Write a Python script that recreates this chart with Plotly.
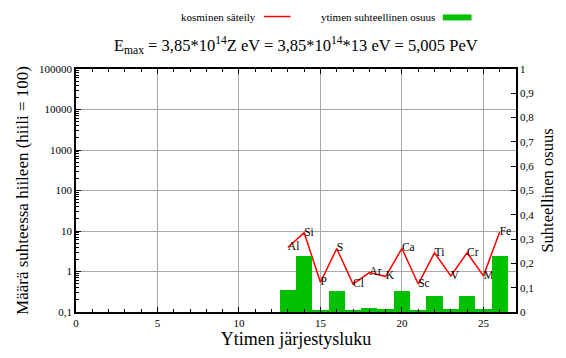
import plotly.graph_objects as go

# Nuclei Z = 13 ... 26 and their symbols
z_numbers = [13, 14, 15, 16, 17, 18, 19, 20, 21, 22, 23, 24, 25, 26]
symbols = ["Al", "Si", "P", "S", "Cl", "Ar", "K", "Ca", "Sc", "Ti", "V", "Cr", "Mn", "Fe"]

# Abundance in cosmic rays relative to carbon (carbon = 100)
cosmic_abundance = [3.9, 9.1, 0.54, 3.7, 0.49, 0.94, 0.75, 3.7, 0.49, 2.9, 0.78, 2.9, 0.78, 9.4]

# Relative share of each nucleus
relative_share = [0.09, 0.23, 0.01, 0.087, 0.007, 0.018, 0.014, 0.087, 0.007, 0.064, 0.013, 0.064, 0.013, 0.23]

# Axis tick labels
log_tickvals = [0.1, 1, 10, 100, 1000, 10000, 100000]
log_ticktext = ["0,1", "1", "10", "100", "1000", "10000", "100000"]
share_tickvals = [0, 0.1, 0.2, 0.3, 0.4, 0.5, 0.6, 0.7, 0.8, 0.9, 1]
share_ticktext = ["0", "0,1", "0,2", "0,3", "0,4", "0,5", "0,6", "0,7", "0,8", "0,9", "1"]
x_tickvals = [0, 5, 10, 15, 20, 25]

FONT = "'Liberation Serif', 'Times New Roman', Times, serif"
GRID = "#a8a8a8"

log_minor = [m * 10 ** e for e in range(-1, 5) for m in range(2, 10)]

fig = go.Figure()

fig.add_trace(go.Scatter(
    x=z_numbers, y=cosmic_abundance, mode="lines+text",
    text=symbols, textposition="middle right",
    textfont=dict(family=FONT, size=11.5, color="black"),
    line=dict(color="#ff0000", width=1.5),
    yaxis="y", showlegend=False, cliponaxis=False,
))

fig.add_trace(go.Bar(
    x=z_numbers, y=relative_share, width=1.0,
    marker=dict(color="#00c000", line=dict(width=0)),
    yaxis="y2", showlegend=False,
))

fig.update_layout(
    width=566, height=358,
    margin=dict(l=76, r=45, t=69, b=44),
    paper_bgcolor="white", plot_bgcolor="white",
    font=dict(family=FONT, size=11, color="black"),
    bargap=0,
    xaxis=dict(
        range=[0, 27], tickmode="array", tickvals=x_tickvals,
        ticks="inside", ticklen=5, tickwidth=1, tickcolor="black",
        minor=dict(ticks="inside", dtick=1, tick0=0, ticklen=3, tickcolor="black", showgrid=False),
        showgrid=True, gridcolor=GRID, gridwidth=1, zeroline=False,
        showline=True, linecolor="black", linewidth=1.5, mirror="ticks",
        tickfont=dict(family=FONT, size=11),
        title=dict(text="Ytimen järjestysluku", font=dict(family=FONT, size=18), standoff=4),
    ),
    yaxis=dict(
        type="log", range=[-1, 5], side="left",
        tickmode="array", tickvals=log_tickvals, ticktext=log_ticktext,
        ticks="inside", ticklen=5, tickcolor="black",
        minor=dict(ticks="inside", tickmode="array", tickvals=log_minor, ticklen=3,
                   tickcolor="black", showgrid=False),
        showgrid=True, gridcolor=GRID, gridwidth=1, zeroline=False,
        showline=True, linecolor="black", linewidth=1.5,
        tickfont=dict(family=FONT, size=11),
        title=dict(text="Määrä suhteessa hiileen (hiili = 100)", font=dict(family=FONT, size=17), standoff=6),
    ),
    yaxis2=dict(
        range=[0, 1], side="right", overlaying="y",
        tickmode="array", tickvals=share_tickvals, ticktext=share_ticktext,
        ticks="inside", ticklen=5, tickcolor="black",
        showgrid=False, zeroline=False,
        showline=True, linecolor="black", linewidth=1.5,
        tickfont=dict(family=FONT, size=11),
        title=dict(text="Suhteellinen osuus", font=dict(family=FONT, size=16.5), standoff=8),
    ),
)

# Title
fig.add_annotation(
    xref="paper", yref="paper", x=0.5, y=1.098, xanchor="center", yanchor="middle",
    text="E<sub>max</sub> = 3,85*10<sup>14</sup>Z eV = 3,85*10<sup>14</sup>*13 eV = 5,005 PeV",
    showarrow=False, font=dict(family=FONT, size=16.5, color="black"),
)

# Key: text followed by its sample
fig.add_annotation(
    xref="paper", yref="paper", x=0.4135, y=1.216, xanchor="right", yanchor="middle",
    text="kosminen säteily", showarrow=False, font=dict(family=FONT, size=11, color="black"),
)
fig.add_shape(type="line", xref="paper", yref="paper",
              x0=0.427, x1=0.4876, y0=1.216, y1=1.216,
              line=dict(color="#ff0000", width=1.5))
fig.add_annotation(
    xref="paper", yref="paper", x=0.8202, y=1.216, xanchor="right", yanchor="middle",
    text="ytimen suhteellinen osuus", showarrow=False, font=dict(family=FONT, size=11, color="black"),
)
fig.add_shape(type="rect", xref="paper", yref="paper",
              x0=0.8337, x1=0.8989, y0=1.2, y1=1.2245,
              line=dict(width=0), fillcolor="#00c000")

fig.write_html("out.html")
